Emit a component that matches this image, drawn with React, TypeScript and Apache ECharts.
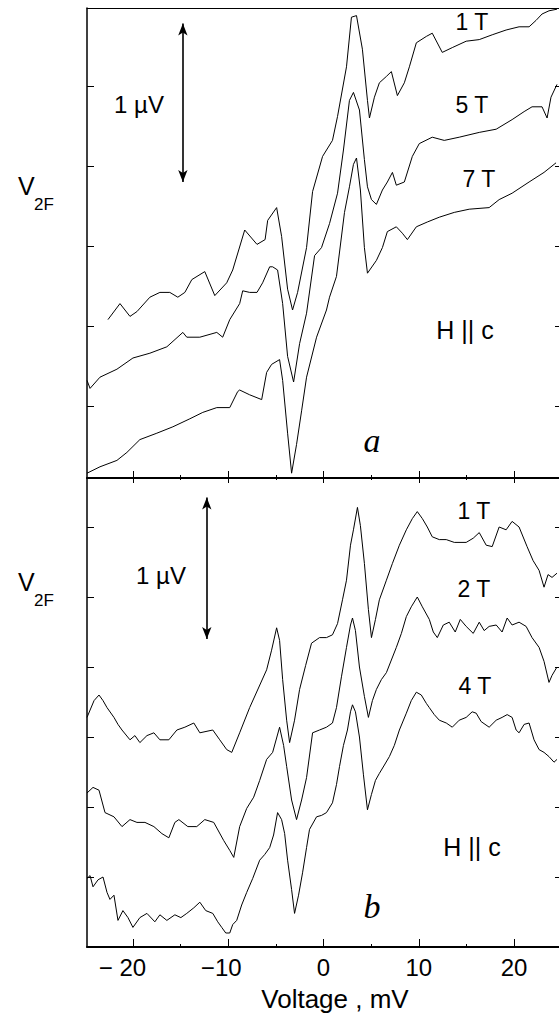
import { useEffect, useRef } from "react";
import * as echarts from "echarts";

// ---- axis ranges / ticks ----
const X_MIN = -24.82;
const X_MAX = 24.71;
const X_MAJOR = [-20, -10, 0, 10, 20];
const X_MINOR = [-15, -5, 5, 15];
const TOP_Y_MIN = -0.45;
const TOP_Y_MAX = 2.4875;
const TOP_Y_TICKS = [0, 0.5, 1, 1.5, 2];
const BOT_Y_MIN = -0.5;
const BOT_Y_MAX = 2.85;
const BOT_Y_TICKS = [0, 0.5, 1, 1.5, 2, 2.5];

// ---- panel a (H || c): [voltage mV, V2F µV] ----
const a1T: number[][] = [
  [-22.62, 0.54], [-21.36, 0.64], [-20.31, 0.56], [-19.58, 0.59], [-18.22, 0.68], [-17.17, 0.71],
  [-16.13, 0.71], [-15.29, 0.68], [-14.55, 0.71], [-13.82, 0.79], [-12.46, 0.84], [-11.41, 0.69],
  [-10.16, 0.77], [-9.53, 0.85], [-8.27, 1.1], [-6.98, 1.01], [-6.13, 1.04], [-5.86, 1.16],
  [-4.92, 1.24], [-4.4, 1.06], [-3.77, 0.73], [-3.25, 0.6], [-2.72, 0.71], [-1.78, 0.99],
  [-1.15, 1.34], [-0.1, 1.56], [0.94, 1.66], [1.47, 1.81], [2.41, 2.12], [2.93, 2.43],
  [3.46, 2.44], [4.08, 2.23], [4.61, 1.91], [4.82, 1.8], [5.34, 1.93], [5.86, 2.02],
  [6.6, 2.06], [7.12, 2.09], [7.75, 1.94], [8.48, 2.02], [9.01, 2.12], [9.74, 2.27],
  [10.79, 2.31], [11.41, 2.33], [12.46, 2.21], [13.51, 2.24], [14.97, 2.28], [16.34, 2.29],
  [17.7, 2.32], [19.16, 2.35], [20.52, 2.37], [21.57, 2.37], [22.3, 2.41], [22.93, 2.45],
  [23.66, 2.47], [24.5, 2.48],
];
const a5T: number[][] = [
  [-24.82, 0.16], [-24.5, 0.11], [-23.46, 0.18], [-21.68, 0.23], [-20.0, 0.3], [-18.22, 0.33],
  [-16.44, 0.37], [-14.76, 0.46], [-14.35, 0.43], [-12.98, 0.43], [-11.2, 0.46], [-10.58, 0.43],
  [-9.84, 0.54], [-8.8, 0.64], [-8.48, 0.72], [-7.75, 0.71], [-6.98, 0.71], [-6.39, 0.77],
  [-5.65, 0.87], [-5.34, 0.87], [-4.82, 0.85], [-4.29, 0.64], [-3.77, 0.31], [-3.14, 0.15],
  [-2.51, 0.39], [-1.78, 0.58], [-0.94, 0.94], [-0.21, 0.99], [0.63, 1.14], [1.47, 1.33],
  [2.09, 1.6], [2.72, 1.91], [3.14, 1.96], [3.77, 1.85], [4.29, 1.54], [4.61, 1.37],
  [5.03, 1.29], [5.55, 1.26], [6.18, 1.35], [6.7, 1.4], [7.23, 1.46], [7.64, 1.38],
  [8.48, 1.4], [9.32, 1.56], [10.05, 1.64], [11.41, 1.68], [12.67, 1.66], [14.24, 1.68],
  [16.34, 1.71], [18.12, 1.73], [19.79, 1.79], [21.05, 1.84], [21.88, 1.87], [22.93, 1.87],
  [23.46, 1.8], [23.87, 1.93], [24.5, 2.01],
];
const a7T: number[][] = [
  [-24.82, -0.42], [-23.46, -0.38], [-21.68, -0.34], [-20.63, -0.29], [-19.27, -0.21], [-17.49, -0.17],
  [-15.81, -0.13], [-14.03, -0.08], [-12.67, -0.04], [-11.2, -0.01], [-9.84, -0.01], [-9.01, 0.09],
  [-8.8, 0.1], [-7.75, 0.07], [-6.49, 0.04], [-5.97, 0.21], [-5.45, 0.26], [-4.61, 0.29],
  [-4.29, 0.16], [-3.77, -0.17], [-3.35, -0.42], [-2.83, -0.24], [-2.3, -0.03], [-1.78, 0.18],
  [-0.73, 0.43], [0.31, 0.6], [0.63, 0.68], [1.36, 0.81], [2.2, 1.21], [2.72, 1.37],
  [3.14, 1.51], [3.46, 1.55], [3.87, 1.35], [4.29, 0.99], [4.61, 0.83], [5.55, 0.91],
  [6.18, 0.99], [6.7, 1.09], [7.64, 1.12], [8.27, 1.08], [8.8, 1.04], [9.74, 1.12],
  [10.89, 1.15], [12.15, 1.18], [13.72, 1.21], [15.29, 1.23], [17.38, 1.24], [18.43, 1.29],
  [19.79, 1.33], [21.57, 1.4], [23.14, 1.46], [24.4, 1.52],
];

// ---- panel b (H || c) ----
const b1T: number[][] = [
  [-24.82, 1.14], [-24.08, 1.26], [-23.56, 1.3], [-23.14, 1.26], [-22.72, 1.21], [-21.99, 1.14],
  [-21.57, 1.09], [-21.15, 1.05], [-20.31, 0.98], [-19.79, 1.01], [-19.27, 0.96], [-18.53, 1.01],
  [-17.8, 1.03], [-17.17, 0.98], [-16.23, 0.98], [-15.39, 1.05], [-14.55, 1.07], [-13.61, 1.1],
  [-12.98, 1.03], [-11.62, 1.05], [-10.89, 0.98], [-10.16, 0.91], [-9.63, 0.89], [-8.8, 1.03],
  [-7.75, 1.21], [-5.97, 1.48], [-5.45, 1.62], [-4.92, 1.78], [-4.61, 1.69], [-4.29, 1.41],
  [-3.87, 1.12], [-3.56, 0.96], [-3.04, 1.12], [-2.51, 1.34], [-1.88, 1.51], [-1.26, 1.67],
  [-0.42, 1.71], [0.31, 1.71], [0.94, 1.73], [1.47, 1.81], [1.99, 1.98], [2.41, 2.12],
  [2.83, 2.37], [3.14, 2.48], [3.56, 2.64], [3.87, 2.51], [4.29, 2.24], [4.71, 1.91],
  [5.03, 1.71], [5.45, 1.84], [5.86, 1.98], [6.6, 2.12], [7.23, 2.24], [7.96, 2.37],
  [8.69, 2.48], [9.32, 2.56], [9.84, 2.61], [10.37, 2.56], [10.89, 2.5], [11.41, 2.43],
  [12.15, 2.41], [12.88, 2.41], [13.72, 2.39], [14.97, 2.39], [15.71, 2.42], [16.34, 2.46],
  [17.07, 2.37], [17.7, 2.36], [18.43, 2.5], [19.16, 2.48], [19.79, 2.54], [20.52, 2.5],
  [21.36, 2.36], [21.99, 2.26], [22.62, 2.19], [23.14, 2.07], [23.56, 2.16], [23.98, 2.14],
  [24.5, 2.17],
];
const b2T: number[][] = [
  [-24.82, 0.6], [-24.19, 0.64], [-23.56, 0.62], [-22.93, 0.46], [-21.99, 0.43], [-21.15, 0.36],
  [-20.31, 0.41], [-19.58, 0.39], [-18.74, 0.39], [-17.8, 0.36], [-16.96, 0.31], [-16.23, 0.28],
  [-15.6, 0.39], [-15.18, 0.41], [-14.24, 0.36], [-13.3, 0.36], [-12.46, 0.41], [-11.52, 0.39],
  [-10.47, 0.26], [-9.84, 0.19], [-9.42, 0.14], [-8.8, 0.36], [-8.06, 0.49], [-7.33, 0.57],
  [-6.7, 0.69], [-5.97, 0.84], [-5.34, 0.89], [-4.61, 1.07], [-4.19, 0.94], [-3.87, 0.79],
  [-3.35, 0.55], [-2.83, 0.41], [-2.3, 0.55], [-1.78, 0.71], [-1.15, 1.03], [-0.42, 1.05],
  [0.31, 1.07], [0.94, 1.1], [1.36, 1.21], [1.88, 1.43], [2.41, 1.64], [2.83, 1.8],
  [3.04, 1.85], [3.35, 1.76], [3.77, 1.5], [4.29, 1.29], [4.71, 1.14], [5.13, 1.26],
  [5.55, 1.34], [6.07, 1.41], [6.6, 1.46], [7.12, 1.55], [7.64, 1.64], [8.17, 1.74],
  [8.69, 1.86], [9.21, 1.93], [9.84, 2.0], [10.37, 1.93], [11.1, 1.84], [11.52, 1.75],
  [11.94, 1.71], [12.57, 1.8], [13.19, 1.82], [13.82, 1.75], [14.35, 1.84], [14.97, 1.79],
  [15.71, 1.74], [16.34, 1.82], [16.86, 1.76], [17.38, 1.79], [18.12, 1.8], [18.74, 1.75],
  [19.27, 1.85], [19.79, 1.8], [20.52, 1.82], [21.26, 1.79], [21.88, 1.71], [22.62, 1.64],
  [23.14, 1.54], [23.66, 1.39], [23.98, 1.44], [24.5, 1.5],
];
const b4T: number[][] = [
  [-24.82, -0.01], [-24.5, 0.01], [-24.19, -0.07], [-23.66, -0.02], [-23.14, 0.0], [-22.72, -0.11],
  [-22.41, -0.16], [-21.99, -0.13], [-21.57, -0.31], [-21.05, -0.24], [-20.52, -0.29], [-20.0, -0.36],
  [-19.27, -0.29], [-18.53, -0.26], [-17.7, -0.32], [-17.17, -0.27], [-16.44, -0.31], [-15.6, -0.27],
  [-14.97, -0.29], [-14.35, -0.26], [-13.61, -0.22], [-12.98, -0.18], [-12.36, -0.24], [-11.62, -0.26],
  [-11.1, -0.32], [-10.68, -0.36], [-10.26, -0.4], [-9.84, -0.4], [-9.53, -0.34], [-9.11, -0.31],
  [-8.59, -0.2], [-8.06, -0.11], [-7.43, -0.01], [-6.7, 0.12], [-6.18, 0.16], [-5.65, 0.21],
  [-5.24, 0.3], [-4.82, 0.46], [-4.4, 0.41], [-4.08, 0.31], [-3.77, 0.12], [-3.35, -0.09],
  [-3.04, -0.26], [-2.62, -0.13], [-2.2, 0.03], [-1.78, 0.21], [-1.47, 0.34], [-0.73, 0.43],
  [-0.21, 0.44], [0.31, 0.46], [0.94, 0.53], [1.36, 0.66], [1.68, 0.79], [2.09, 0.94],
  [2.51, 1.05], [2.83, 1.18], [3.04, 1.23], [3.35, 1.18], [3.77, 1.0], [4.19, 0.73],
  [4.61, 0.48], [5.03, 0.59], [5.45, 0.69], [5.86, 0.74], [6.39, 0.8], [6.91, 0.86],
  [7.43, 0.94], [7.96, 1.05], [8.69, 1.17], [9.21, 1.26], [9.74, 1.32], [10.26, 1.3],
  [10.79, 1.24], [11.1, 1.21], [11.62, 1.16], [12.15, 1.12], [12.88, 1.1], [13.51, 1.07],
  [14.24, 1.12], [14.97, 1.14], [15.6, 1.18], [16.02, 1.17], [16.54, 1.11], [17.38, 1.07],
  [18.12, 1.12], [18.74, 1.14], [19.27, 1.16], [19.79, 1.14], [20.21, 1.05], [20.52, 1.03],
  [21.05, 1.09], [21.57, 1.1], [22.09, 0.98], [22.62, 0.91], [23.14, 0.89], [23.66, 0.86],
  [24.19, 0.82], [24.5, 0.84],
];

// scale bars (1 µV) in data coordinates
const TOP_BAR = { x: -14.76, from: 1.4, to: 2.39 };
const BOT_BAR = { x: -12.25, from: 1.7, to: 2.71 };

const FONT = "'Liberation Sans', Arial, Helvetica, sans-serif";
const SERIF = "'Liberation Serif', 'Times New Roman', serif";

function txt(text: string, x: number, y: number, size: number, align = "center", italic = false) {
  return {
    type: "text",
    x,
    y,
    silent: true,
    style: {
      text,
      fill: "#000",
      font: `${italic ? "italic " : ""}${size}px ${italic ? SERIF : FONT}`,
      align,
      verticalAlign: "middle",
      textAlign: align,
      textVerticalAlign: "middle",
    },
  };
}

export default function App() {
  const ref = useRef<HTMLDivElement>(null);
  useEffect(() => {
    document.body.style.margin = "0";
    document.body.style.overflow = "hidden";
    const chart = echarts.init(ref.current!, undefined, { renderer: "svg" });
    const black = "#000";
    const xBase = (grid: number, pos: string, lineShow: boolean, lineWidth: number, extra: any) => ({
      type: "value",
      gridIndex: grid,
      position: pos,
      min: X_MIN,
      max: X_MAX,
      splitLine: { show: false },
      axisLabel: { show: false },
      axisLine: { show: lineShow, onZero: false, lineStyle: { color: black, width: lineWidth } },
      ...extra,
    });
    const yBase = (grid: number, pos: string, min: number, max: number, ticks: number[], lineWidth: number) => ({
      type: "value",
      gridIndex: grid,
      position: pos,
      min,
      max,
      splitLine: { show: false },
      axisLabel: { show: false },
      axisLine: { show: true, onZero: false, lineStyle: { color: black, width: lineWidth } },
      axisTick: { show: true, inside: true, length: pos === "left" ? 7 : 4, customValues: ticks, lineStyle: { color: black, width: 1 } },
    });
    const line = (name: string, data: number[][], grid: number, bar?: { x: number; from: number; to: number }) => ({
      type: "line",
      name,
      xAxisIndex: grid === 0 ? 0 : 3,
      yAxisIndex: grid === 0 ? 0 : 2,
      data,
      showSymbol: false,
      symbol: "none",
      silent: true,
      lineStyle: { color: black, width: 1 },
      markLine: bar
        ? {
            silent: true,
            symbol: ["arrow", "arrow"],
            symbolSize: [7, 12],
            label: { show: false },
            lineStyle: { color: black, width: 1.6, type: "solid" },
            data: [[{ coord: [bar.x, bar.from] }, { coord: [bar.x, bar.to] }]],
          }
        : undefined,
    });
    const tick = (len: number, values: number[]) => ({
      show: true,
      inside: true,
      length: len,
      customValues: values,
      lineStyle: { color: black, width: 1 },
    });
    chart.setOption({
      animation: false,
      backgroundColor: "#fff",
      grid: [
        { left: 87, top: 8, right: -1, height: 470 },
        { left: 87, top: 478, right: -1, height: 469 },
      ],
      xAxis: [
        xBase(0, "bottom", true, 2, { axisTick: tick(7, X_MAJOR) }),
        xBase(0, "bottom", false, 1, { axisTick: tick(3, X_MINOR) }),
        xBase(0, "top", true, 1, { axisTick: { show: false } }),
        xBase(1, "bottom", true, 2, {
          axisTick: tick(8, X_MAJOR),
          axisLabel: {
            show: true,
            customValues: X_MAJOR,
            margin: 8,
            color: black,
            fontSize: 24,
            fontFamily: FONT,
            formatter: (v: number) => {
              if (v < 0) {
                const wide = v === -20;
                return `{n|${wide ? "\u2212 " : "\u2212"}${Math.abs(v)}}{${wide ? "sa" : "sb"}| }`;
              }
              return `{n|${v}}`;
            },
            rich: {
              n: { fontSize: 24, fontFamily: FONT, color: black },
              sa: { width: 21, fontSize: 24 },
              sb: { width: 14, fontSize: 24 },
            },
          },
        }),
        xBase(1, "bottom", false, 1, { axisTick: tick(3, X_MINOR) }),
        xBase(1, "top", true, 1, { axisTick: tick(5, X_MAJOR) }),
        xBase(1, "top", false, 1, { axisTick: tick(2, X_MINOR) }),
      ],
      yAxis: [
        yBase(0, "left", TOP_Y_MIN, TOP_Y_MAX, TOP_Y_TICKS, 1.5),
        yBase(0, "right", TOP_Y_MIN, TOP_Y_MAX, TOP_Y_TICKS, 1),
        yBase(1, "left", BOT_Y_MIN, BOT_Y_MAX, BOT_Y_TICKS, 1.5),
        yBase(1, "right", BOT_Y_MIN, BOT_Y_MAX, BOT_Y_TICKS, 1),
      ],
      series: [
        line("a 1 T", a1T, 0, TOP_BAR),
        line("a 5 T", a5T, 0),
        line("a 7 T", a7T, 0),
        line("b 1 T", b1T, 1, BOT_BAR),
        line("b 2 T", b2T, 1),
        line("b 4 T", b4T, 1),
      ],
      graphic: [
        txt("V", 18, 186, 25, "left"),
        txt("2F", 34, 204, 17, "left"),
        txt("V", 18, 582, 25, "left"),
        txt("2F", 34, 600, 17, "left"),
        txt("1 \u00b5V", 139, 104, 24),
        txt("1 \u00b5V", 161, 575, 24),
        txt("1 T", 472, 22, 23),
        txt("5 T", 472, 105, 23),
        txt("7 T", 479, 179, 23),
        txt("H || c", 465, 330, 25),
        txt("a", 372, 440, 34, "center", true),
        txt("1 T", 474, 511, 23),
        txt("2 T", 474, 589, 23),
        txt("4 T", 475, 686, 23),
        txt("H || c", 472, 847, 25),
        txt("b", 372, 906, 34, "center", true),
        txt("Voltage , mV", 335, 999, 26),
      ],
    });
    return () => chart.dispose();
  }, []);
  return <div ref={ref} style={{ width: 559, height: 1015 }} />;
}
